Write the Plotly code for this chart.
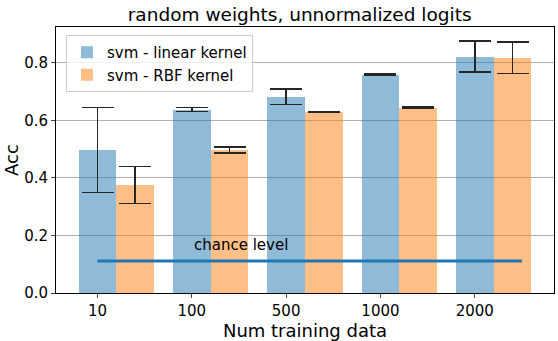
import plotly.graph_objects as go

# data
categories = ["10", "100", "500", "1000", "2000"]
linear_acc = [0.497, 0.638, 0.683, 0.759, 0.822]
linear_err = [0.148, 0.007, 0.027, 0.002, 0.054]
rbf_acc = [0.376, 0.497, 0.629, 0.645, 0.818]
rbf_err = [0.064, 0.011, 0.002, 0.001, 0.055]
chance_level = 0.111

BAR_W = 0.4
pos = list(range(len(categories)))

fig = go.Figure()
fig.add_trace(go.Bar(
    x=pos, y=linear_acc, width=BAR_W, name="svm - linear kernel",
    marker=dict(color="rgba(31,119,180,0.5)", line=dict(width=0)),
    error_y=dict(type="data", array=linear_err, color="#262626", thickness=1.5, width=16),
))
fig.add_trace(go.Bar(
    x=[p + BAR_W for p in pos], y=rbf_acc, width=BAR_W, name="svm - RBF kernel",
    marker=dict(color="rgba(255,127,14,0.5)", line=dict(width=0)),
    error_y=dict(type="data", array=rbf_err, color="#262626", thickness=1.5, width=16),
))
fig.add_trace(go.Scatter(
    x=[0, len(categories) - 0.5], y=[chance_level, chance_level], mode="lines",
    line=dict(color="#1f77b4", width=3), showlegend=False, hoverinfo="skip",
))
fig.add_annotation(x=1, y=0.13, text="chance level", showarrow=False,
                   xanchor="left", yanchor="bottom", font=dict(size=15, color="black"))

fig.update_layout(
    width=558, height=341, barmode="overlay", bargap=0,
    plot_bgcolor="white", paper_bgcolor="white",
    font=dict(family="DejaVu Sans", size=15, color="black"),
    margin=dict(l=56, r=4, t=27, b=48),
    title=dict(text="random weights, unnormalized logits", x=0.537, xanchor="center",
               y=0.956, yanchor="middle", font=dict(size=18.5)),
    legend=dict(x=0.02, y=0.97, xanchor="left", yanchor="top",
                bordercolor="#cccccc", borderwidth=1, bgcolor="rgba(255,255,255,0.8)",
                font=dict(size=15)),
    xaxis=dict(range=[-0.44, 4.84], tickvals=pos, ticktext=categories,
               showgrid=False, zeroline=False, showline=True, linecolor="black",
               mirror=True, ticks="outside", ticklen=4,
               title=dict(text="Num training data", standoff=1)),
    yaxis=dict(range=[0, 0.925], tickvals=[0, 0.2, 0.4, 0.6, 0.8], tickformat=".1f",
               showgrid=True, gridcolor="#b0b0b0", zeroline=False, showline=True,
               linecolor="black", mirror=True, ticks="outside", ticklen=4,
               title=dict(text="Acc", standoff=0)),
)

# drop the browser's default 8px body margin so the figure fills the window
fig.write_html("out.html", config={"displayModeBar": False},
               post_script="document.body.style.margin='0';")
